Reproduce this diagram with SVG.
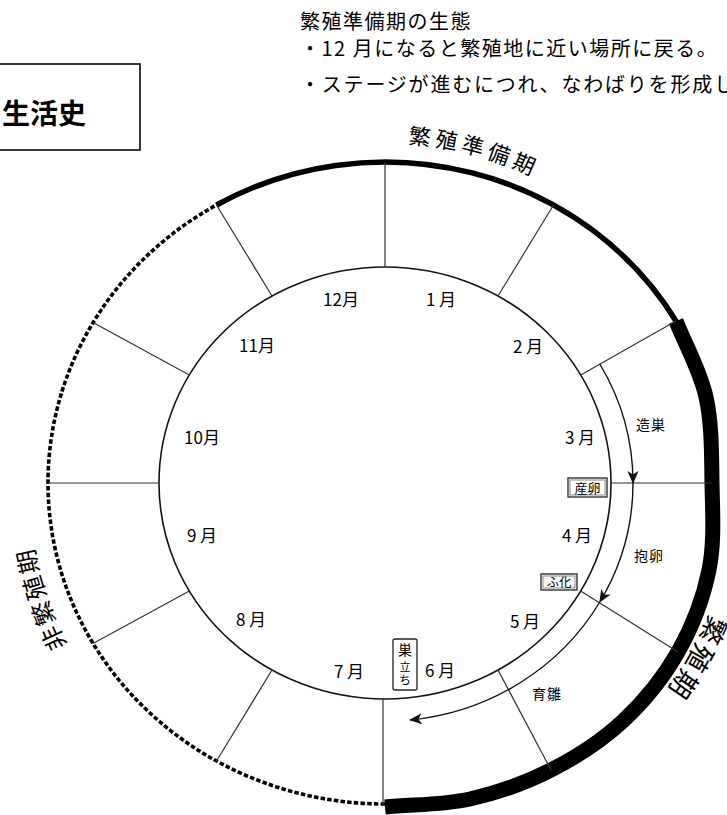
<svg xmlns="http://www.w3.org/2000/svg" width="727" height="815" viewBox="0 0 727 815">
<defs>
<style>
.jp{font-family:'Noto Sans CJK JP','Noto Sans CJK SC',sans-serif;fill:#000}
.note{font-size:20px;letter-spacing:1.5px}
.mon{font-size:17px;text-anchor:middle}
.sm{font-size:14px;text-anchor:middle}
.rad{stroke:#333;stroke-width:1.2;fill:none}
.arr{stroke:#111;stroke-width:1.4;fill:none;marker-end:url(#ah)}
.box{fill:#fff;stroke:#222;stroke-width:1.3}
.ibox{fill:none;stroke:#555;stroke-width:0.7}
</style>
<marker id="ah" markerUnits="userSpaceOnUse" markerWidth="13" markerHeight="12" viewBox="0 0 13 12" refX="12" refY="6" orient="auto">
<path d="M0,0.5 L13,6 L0,11.5 L3.5,6 z" fill="#111"/>
</marker>
<path id="tpTop" d="M 268.7 163.4 A 340 340 0 0 1 645.4 264.4" fill="none"/>
<path id="tpRight" d="M 735 483 A 350 350 0 0 1 567.4 781.9" fill="none"/>
<path id="tpLeft" d="M 155.5 756.5 A 357 357 0 0 1 36.9 403.9" fill="none"/>
</defs>
<rect x="0" y="0" width="727" height="815" fill="#fff"/>

<g id="title">
<rect x="-5" y="64" width="145" height="86" fill="none" stroke="#222" stroke-width="1.8"/>
<text class="jp" x="86" y="124" text-anchor="end" font-size="28" font-weight="bold">生活史</text>
</g>

<g id="notes" class="jp note">
<text x="300" y="29">繁殖準備期の生態</text>
<text x="300" y="56">・12 月になると繁殖地に近い場所に戻る。</text>
<text x="300" y="92" letter-spacing="1.8">・ステージが進むにつれ、なわばりを形成し</text>
</g>

<g id="ring">
<ellipse cx="385" cy="483" rx="226" ry="216" fill="none" stroke="#111" stroke-width="1.6"/>
<path d="M 216.5 205 A 337 321 0 0 1 676.9 322.5" fill="none" stroke="#000" stroke-width="5.5"/>
<path d="M 385 804 A 337 321 0 0 1 216.5 205" fill="none" stroke="#000" stroke-width="3.6" stroke-dasharray="4.5 2.2"/>
<path d="M 676 321 C 686 346.3 700 370 706 397 C 712 424 711.5 454.2 712 483 C 712.5 511.8 714.7 541.8 709 570 C 703.3 598.2 692.3 626.8 678 652 C 663.7 677.2 644.2 701.3 623 721 C 601.8 740.7 576.5 757 551 770 C 525.5 783 497.7 792.8 470 799 C 442.3 805.2 413.3 804.3 385 807" fill="none" stroke="#000" stroke-width="15"/>
</g>

<g id="connectors">
<line class="rad" x1="385" y1="267" x2="385" y2="162"/>
<line class="rad" x1="498" y1="296" x2="553.5" y2="205"/>
<line class="rad" x1="580.7" y1="375" x2="676" y2="321"/>
<line class="rad" x1="611" y1="483" x2="712" y2="483"/>
<line class="rad" x1="580.7" y1="591" x2="678" y2="652"/>
<line class="rad" x1="498" y1="670" x2="551" y2="770"/>
<line class="rad" x1="383" y1="699" x2="383" y2="806"/>
<line class="rad" x1="272" y1="670" x2="216.5" y2="761"/>
<line class="rad" x1="189.3" y1="591" x2="93" y2="643.5"/>
<line class="rad" x1="159" y1="483" x2="48" y2="483"/>
<line class="rad" x1="189.3" y1="375" x2="93" y2="322.5"/>
<line class="rad" x1="272" y1="296" x2="216.5" y2="205"/>
<path class="arr" d="M 599.8 364 A 248 238 0 0 1 633 483"/>
<path class="arr" d="M 633 483 A 248 238 0 0 1 599.8 602"/>
<path class="arr" d="M 599.8 602 A 248 238 0 0 1 410 720"/>
</g>

<g id="period-labels" class="jp">
<text font-size="22" letter-spacing="4.4"><textPath href="#tpTop" startOffset="50%" text-anchor="middle">繁殖準備期</textPath></text>
<text font-size="27" letter-spacing="3"><textPath href="#tpRight" startOffset="50%" text-anchor="middle">繁殖期</textPath></text>
<text font-size="24" letter-spacing="2.3"><textPath href="#tpLeft" startOffset="50%" text-anchor="middle">非繁殖期</textPath></text>
</g>

<g id="months" class="jp mon">
<text x="341" y="306">12月</text>
<text x="441" y="306">1 月</text>
<text x="257" y="352">11月</text>
<text x="528" y="353">2 月</text>
<text x="202" y="444">10月</text>
<text x="580" y="444">3 月</text>
<text x="202" y="542">9 月</text>
<text x="577" y="542">4 月</text>
<text x="251" y="626">8 月</text>
<text x="525" y="628">5 月</text>
<text x="349" y="678">7 月</text>
<text x="440" y="677">6 月</text>
</g>

<g id="stages" class="jp sm">
<text x="651" y="430" letter-spacing="1">造巣</text>
<text x="649" y="561" letter-spacing="1">抱卵</text>
<text x="547" y="699" letter-spacing="1">育雛</text>
</g>

<g id="event-laying">
<rect class="box" x="568" y="478" width="39" height="19"/>
<rect class="ibox" x="570" y="480" width="35" height="15"/>
<text class="jp" x="587.5" y="492.5" font-size="13" text-anchor="middle">産卵</text>
</g>
<g id="event-hatch">
<rect class="box" x="541" y="574" width="36" height="16"/>
<rect class="ibox" x="543" y="576" width="32" height="12"/>
<text class="jp" x="559" y="587" font-size="12.5" text-anchor="middle">ふ化</text>
</g>
<g id="event-fledge">
<rect class="box" x="393" y="639" width="24" height="51" rx="2"/>
<text class="jp" x="405" y="655" font-size="14" text-anchor="middle">巣</text>
<text class="jp" x="405" y="671" font-size="11" text-anchor="middle">立</text>
<text class="jp" x="405" y="685" font-size="12" text-anchor="middle">ち</text>
</g>
</svg>
